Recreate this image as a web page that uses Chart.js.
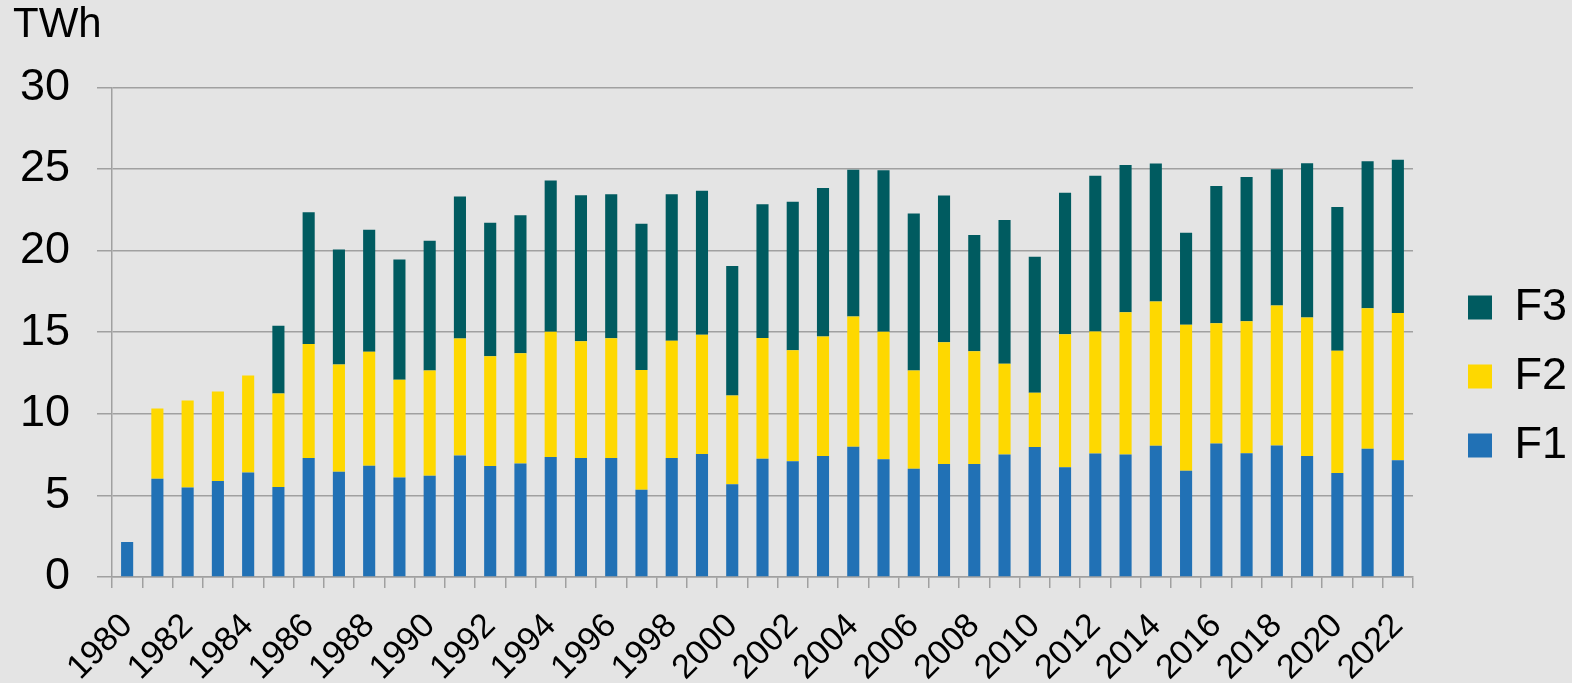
<!DOCTYPE html>
<html>
<head>
<meta charset="utf-8">
<script src="https://cdn.jsdelivr.net/npm/chart.js@4"></script>
<style>
  html, body { margin: 0; padding: 0; background: #e4e4e4; }
  #wrap { width: 1572px; height: 683px; }
</style>
</head>
<body>
<div id="wrap"><canvas id="myChart" width="1572" height="683"></canvas></div>
<script>
// years on the x axis
const years = [];
for (let y = 1980; y <= 2022; y++) years.push(String(y));

// TWh per segment
const f1 = [2.14, 6.02, 5.49, 5.88, 6.41, 5.51, 7.29, 6.45, 6.82, 6.10,
            6.20, 7.45, 6.80, 6.96, 7.35, 7.29, 7.29, 5.35, 7.29, 7.53,
            5.69, 7.24, 7.10, 7.41, 7.98, 7.22, 6.63, 6.92, 6.92, 7.51,
            7.96, 6.73, 7.57, 7.51, 8.04, 6.51, 8.18, 7.59, 8.06, 7.41,
            6.37, 7.86, 7.16];
const f2 = [null, 4.31, 5.33, 5.49, 5.94, 5.73, 6.98, 6.57, 6.98, 5.98,
            6.45, 7.16, 6.73, 6.75, 7.67, 7.16, 7.34, 7.34, 7.18, 7.31,
            5.43, 7.41, 6.80, 7.32, 7.98, 7.80, 6.02, 7.47, 6.92, 5.55,
            3.33, 8.15, 7.47, 8.71, 8.84, 8.94, 7.37, 8.08, 8.57, 8.49,
            7.49, 8.61, 9.02];
const f3 = [null, null, null, null, null, 4.15, 8.08, 7.04, 7.47, 7.37,
            7.96, 8.70, 8.18, 8.45, 9.27, 8.94, 8.82, 8.96, 8.98, 8.83,
            7.94, 8.19, 9.10, 9.11, 9.00, 9.90, 9.62, 8.98, 7.12, 8.82,
            8.34, 8.67, 9.55, 9.02, 8.45, 5.65, 8.41, 8.84, 8.35, 9.45,
            8.81, 9.00, 9.39];

const yTicks = [0, 5, 10, 15, 20, 25, 30];

const gridCol = '#a0a0a0';

// nudge legend and title to where they sit in the original
const placeBits = {
    id: 'placeBits',
    afterLayout(chart) {
        const lg = chart.legend;
        lg.left += 31; lg.right += 31;
        lg.top += 35; lg.bottom += 35;
        const t = chart.titleBlock;
        t.left -= 7; t.right -= 7;
    }
};

const ctx = document.getElementById('myChart');
const data = {
    labels: years,
    datasets: [
        { label: 'F1', data: f1, backgroundColor: '#2171b5' },
        { label: 'F2', data: f2, backgroundColor: '#fed800' },
        { label: 'F3', data: f3, backgroundColor: '#005b60' }
    ]
};

const config = {
    type: 'bar',
    data: data,
    options: {
        responsive: false,
        animation: false,
        layout: { padding: { left: 20, right: 26, top: 0, bottom: 0 } },
        datasets: {
            bar: { barPercentage: 0.4, categoryPercentage: 1.0, borderWidth: 0 }
        },
        scales: {
            x: {
                stacked: true,
                afterFit: (scale) => {
                    scale.paddingLeft = 0;
                    if (scale._margins) scale._margins.left = 0;
                    scale.height = 106;
                },
                grid: {
                    offset: true,
                    drawOnChartArea: false,
                    color: gridCol,
                    lineWidth: 1.5,
                    tickLength: 11
                },
                border: { color: gridCol, width: 1.5 },
                ticks: {
                    autoSkip: false,
                    minRotation: 45,
                    maxRotation: 45,
                    padding: 18,
                    color: '#000',
                    font: { family: 'Liberation Sans', size: 34 },
                    callback: function (val, idx) {
                        return idx % 2 === 0 ? this.getLabelForValue(val) : '';
                    }
                }
            },
            y: {
                stacked: true,
                min: 0,
                max: 30,
                afterBuildTicks: (axis) => { axis.ticks = yTicks.map(v => ({ value: v })); },
                afterFit: (scale) => { scale.width = 92; },
                grid: { color: gridCol, lineWidth: 1.5, tickLength: 15 },
                border: { color: gridCol, width: 1.5 },
                ticks: {
                    padding: 27,
                    color: '#000',
                    font: { family: 'Liberation Sans', size: 45 }
                }
            }
        },
        plugins: {
            title: {
                display: true,
                text: 'TWh',
                align: 'start',
                color: '#000',
                font: { family: 'Liberation Sans', size: 42, weight: 'normal' },
                padding: { top: 0, bottom: 37 }
            },
            legend: {
                position: 'right',
                reverse: true,
                labels: {
                    boxWidth: 24,
                    boxHeight: 24,
                    padding: 24,
                    color: '#000',
                    font: { family: 'Liberation Sans', size: 45 }
                }
            },
            tooltip: { enabled: false }
        }
    },
    plugins: [placeBits]
};

chart = new Chart(ctx, config);
</script>
</body>
</html>
